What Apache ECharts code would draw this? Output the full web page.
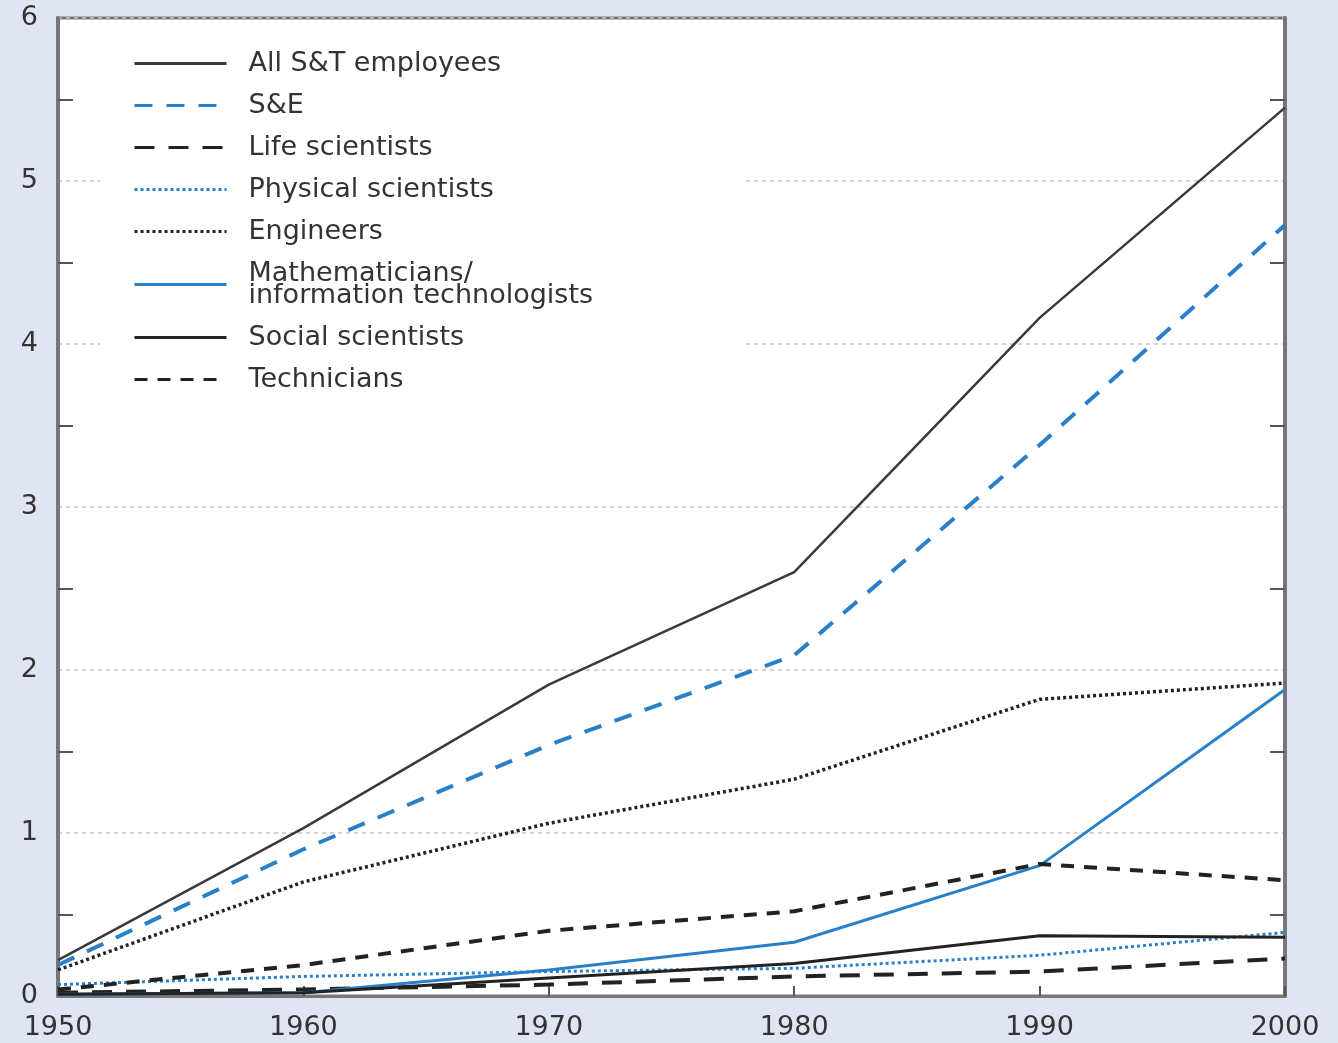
<!DOCTYPE html>
<html>
<head>
<meta charset="utf-8">
<script src="https://cdn.jsdelivr.net/npm/echarts@6/dist/echarts.min.js"></script>
<style>
  html, body { margin: 0; padding: 0; background: #dfe5f2; }
  #chart { width: 1338px; height: 1043px; }
</style>
</head>
<body>
<div id="chart"></div>
<script>
// years on the x axis
const years = [1950, 1960, 1970, 1980, 1990, 2000]

// workers (millions)
const allST = [0.22, 1.03, 1.91, 2.60, 4.16, 5.45]
const sAndE = [0.19, 0.90, 1.54, 2.09, 3.38, 4.73]
const lifeSci = [0.02, 0.04, 0.07, 0.12, 0.15, 0.23]
const physSci = [0.07, 0.12, 0.15, 0.17, 0.25, 0.39]
const engineers = [0.16, 0.70, 1.06, 1.33, 1.82, 1.92]
const mathIT = [0.01, 0.02, 0.16, 0.33, 0.80, 1.88]
const socialSci = [0.01, 0.02, 0.11, 0.20, 0.37, 0.36]
const technicians = [0.04, 0.19, 0.40, 0.52, 0.81, 0.71]

const blue = '#2a80c8'
const font = 'DejaVu Sans'

const chart = echarts.init(document.getElementById('chart'))

const toPoints = vals => vals.map((v, i) => [years[i], v])

const mkLine = (name, vals, color, width, type) => ({
  name,
  type: 'line',
  data: toPoints(vals),
  symbol: 'none',
  lineStyle: { color, width, type },
  itemStyle: { color },
  emphasis: { disabled: true }
})

const minorTick = { show: true, splitNumber: 2, length: 15, lineStyle: { color: '#555', width: 2 } }

const option = {
  backgroundColor: '#dfe5f2',
  animation: false,
  grid: {
    left: 58, right: 53, top: 18, bottom: 47,
    show: true,
    backgroundColor: '#fff',
    borderColor: '#777',
    borderWidth: 3
  },
  legend: {
    orient: 'vertical',
    left: 100,
    top: 30,
    itemWidth: 92,
    itemHeight: 25,
    itemGap: 15,
    padding: [20, 150, 20, 33],
    backgroundColor: '#fff',
    selectedMode: false,
    itemStyle: { opacity: 0 },
    textStyle: {
      fontFamily: font,
      fontSize: 27,
      color: '#333',
      lineHeight: 22,
      padding: [0, 0, 0, 17]
    },
    lineStyle: { width: 3 }
  },
  xAxis: {
    type: 'value',
    min: 1950,
    max: 2000,
    interval: 10,
    axisLine: { lineStyle: { color: '#777', width: 3 } },
    axisTick: { inside: true, length: 10, lineStyle: { color: '#555', width: 2 } },
    axisLabel: { fontFamily: font, fontSize: 27, color: '#333', margin: 18, formatter: v => String(v) },
    splitLine: { show: false }
  },
  yAxis: [
    {
      type: 'value',
      min: 0,
      max: 6,
      interval: 1,
      axisLine: { show: true, lineStyle: { color: '#777', width: 4 } },
      axisTick: { show: false, inside: true },
      minorTick,
      axisLabel: { fontFamily: font, fontSize: 27, color: '#333', margin: 20 },
      splitLine: { show: true, lineStyle: { color: '#c4c4c4', width: 1.5, type: [4, 4] } }
    },
    {
      type: 'value',
      position: 'right',
      min: 0,
      max: 6,
      interval: 1,
      axisLine: { show: true, lineStyle: { color: '#777', width: 4 } },
      axisTick: { show: false, inside: true },
      minorTick,
      axisLabel: { show: false },
      splitLine: { show: false }
    }
  ],
  series: [
    mkLine('All S&T employees', allST, '#3a3a3a', 2.5, 'solid'),
    mkLine('S&E', sAndE, blue, 4, [18, 14]),
    mkLine('Life scientists', lifeSci, '#222', 4, [20, 14]),
    mkLine('Physical scientists', physSci, blue, 3, [3, 3]),
    mkLine('Engineers', engineers, '#222', 3.5, [3, 3]),
    mkLine('Mathematicians/\ninformation technologists', mathIT, blue, 3, 'solid'),
    mkLine('Social scientists', socialSci, '#222', 3, 'solid'),
    mkLine('Technicians', technicians, '#222', 4, [13, 10])
  ]
}

chart.setOption(option)
window.addEventListener('resize', () => chart.resize())
</script>
</body>
</html>
